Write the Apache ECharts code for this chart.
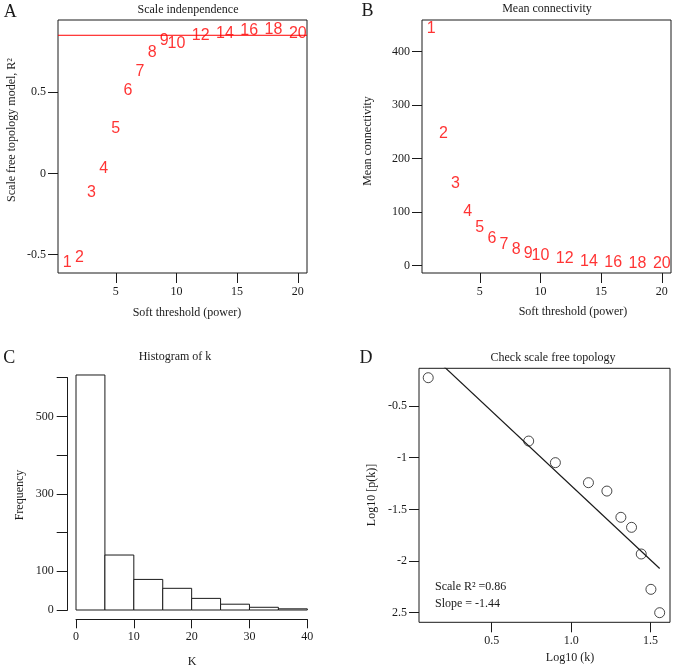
<!DOCTYPE html>
<html><head><meta charset="utf-8">
<script src="https://cdn.jsdelivr.net/npm/echarts@6/dist/echarts.min.js"></script>
<style>html,body{margin:0;padding:0;background:#fff}#c{width:677px;height:669px}</style>
</head><body><div id="c"></div>
<script>
// ---- Panel A / B : soft-threshold selection ----
const powers = [1,2,3,4,5,6,7,8,9,10,12,14,16,18,20];
const sftR2 = [-0.551,-0.52,-0.119,0.031,0.273,0.508,0.627,0.743,0.817,0.797,0.846,0.863,0.877,0.887,0.863];
const meanK = [442,247,153,101,70,50,38,30,23,19,12,7.5,4.5,3.2,3.2];
const r2Cutoff = 0.85;
const thresholdTicks = [5,10,15,20];
const r2Ticks = [-0.5,0,0.5];
const meanKTicks = [0,100,200,300,400];
// ---- Panel C : histogram of k ----
const kBinEdges = [0,5,10,15,20,25,30,35,40];
const kCounts = [607,142,79,56,30,15,7,3];
const freqTicks = [0,100,200,300,400,500,600];
const freqLabelTicks = [0,100,300,500];
const kTicks = [0,10,20,30,40];
// ---- Panel D : scale free topology check ----
const log10k = [0.101,0.733,0.901,1.109,1.225,1.313,1.380,1.441,1.502,1.557];
const log10pk = [-0.226,-0.839,-1.048,-1.242,-1.323,-1.577,-1.674,-1.932,-2.274,-2.5];
const fitIntercept = 0.17;
const fitSlope = -1.44;
const fitR2 = 0.86;
const log10kTicks = [0.5,1.0,1.5];
const log10kTickLabels = ['0.5','1.0','1.5'];
const log10pkTicks = [-2.5,-2,-1.5,-1,-0.5];
const log10pkTickLabels = ['2.5','-2','-1.5','-1','-0.5'];

// axis ranges (R-style 4% padding)
const powerRange = [0.24, 20.76];

const SERIF = 'Liberation Serif';
const SANS = 'Liberation Sans';
const INK = '#1a1a1a';
const FS = 12;
const tickStyle = {color: INK, width: 1};
const lblStyle = {fontFamily: SERIF, fontSize: 12, color: INK};

function boxX(grid, min, max, ticks, fmt) {
  return {gridIndex: grid, type: 'value', min: min, max: max,
    axisLine: {show: false, onZero: false}, splitLine: {show: false},
    axisTick: {show: true, length: 10, customValues: ticks, lineStyle: tickStyle},
    axisLabel: Object.assign({customValues: ticks, margin: 13, formatter: fmt}, lblStyle)};
}
function boxY(grid, min, max, ticks, fmt) {
  return {gridIndex: grid, type: 'value', min: min, max: max,
    axisLine: {show: false, onZero: false}, splitLine: {show: false},
    axisTick: {show: true, length: 10, customValues: ticks, lineStyle: tickStyle},
    axisLabel: Object.assign({customValues: ticks, margin: 12, formatter: fmt}, lblStyle)};
}
function txt(x, y, text, size, opts, align) {
  return Object.assign({type: 'text', x: x, y: y, silent: true,
    style: {text: text, fontFamily: SERIF, fontSize: size, fill: INK, align: align || 'center', verticalAlign: 'middle'}}, opts || {});
}

const chart = echarts.init(document.getElementById('c'), null, {renderer: 'canvas'});
const gridBox = {show: true, borderColor: INK, borderWidth: 1, backgroundColor: 'transparent', containLabel: false};

const option = {
  animation: false,
  backgroundColor: '#fff',
  grid: [
    Object.assign({left: 58, top: 20, width: 249, height: 253}, gridBox),
    Object.assign({left: 422, top: 20, width: 249, height: 253}, gridBox),
    {left: 76, top: 377.7, width: 231.3, height: 232.3, show: false},
    Object.assign({left: 419, top: 368.3, width: 251, height: 254}, gridBox)
  ],
  xAxis: [
    boxX(0, powerRange[0], powerRange[1], thresholdTicks, v => String(v)),
    boxX(1, powerRange[0], powerRange[1], thresholdTicks, v => String(v)),
    {gridIndex: 2, type: 'value', min: 0, max: 40, interval: 10, offset: 9.3,
      axisLine: {show: true, onZero: false, lineStyle: {color: INK, width: 1}}, splitLine: {show: false},
      axisTick: {show: true, length: 9, customValues: kTicks, lineStyle: tickStyle},
      axisLabel: Object.assign({customValues: kTicks, margin: 12}, lblStyle)},
    boxX(3, 0.043, 1.622, log10kTicks, v => log10kTickLabels[log10kTicks.indexOf(v)])
  ],
  yAxis: [
    boxY(0, -0.6125, 0.944, r2Ticks, v => String(v)),
    boxY(1, -14.2, 459, meanKTicks, v => String(v)),
    {gridIndex: 2, type: 'value', min: 0, max: 600, offset: 8.3,
      axisLine: {show: true, onZero: false, lineStyle: {color: INK, width: 1}}, splitLine: {show: false},
      axisTick: {show: true, length: 11, customValues: freqTicks, lineStyle: tickStyle},
      axisLabel: Object.assign({customValues: freqLabelTicks, margin: 14}, lblStyle)},
    boxY(3, -2.593, -0.135, log10pkTicks, v => log10pkTickLabels[log10pkTicks.indexOf(v)])
  ],
  series: [
    {type: 'line', xAxisIndex: 0, yAxisIndex: 0, showSymbol: false, silent: true,
      lineStyle: {color: '#ff0000', width: 1},
      data: powerRange.map(x => [x, r2Cutoff])},
    {type: 'scatter', xAxisIndex: 0, yAxisIndex: 0, symbol: 'circle', symbolSize: 1,
      itemStyle: {color: 'rgba(0,0,0,0)'},
      data: powers.map((p, i) => [p, sftR2[i], p]),
      label: {show: true, position: 'inside', formatter: p => String(p.value[2]),
        fontFamily: SANS, fontSize: 16, color: '#ff0000'}},
    {type: 'scatter', xAxisIndex: 1, yAxisIndex: 1, symbol: 'circle', symbolSize: 1,
      itemStyle: {color: 'rgba(0,0,0,0)'},
      data: powers.map((p, i) => [p, meanK[i], p]),
      label: {show: true, position: 'inside', formatter: p => String(p.value[2]),
        fontFamily: SANS, fontSize: 16, color: '#ff0000'}},
    {type: 'custom', xAxisIndex: 2, yAxisIndex: 2, clip: false,
      data: kCounts.map((c, i) => [kBinEdges[i], kBinEdges[i + 1], c]),
      encode: {x: [0, 1], y: 2},
      renderItem: (params, api) => {
        const p0 = api.coord([api.value(0), api.value(2)]);
        const p1 = api.coord([api.value(1), 0]);
        return {type: 'rect', shape: {x: p0[0], y: p0[1], width: p1[0] - p0[0], height: p1[1] - p0[1]},
          style: {fill: '#fff', stroke: INK, lineWidth: 1}};
      }},
    {type: 'line', xAxisIndex: 3, yAxisIndex: 3, showSymbol: false, clip: true,
      lineStyle: {color: INK, width: 1.2},
      data: [Math.min(...log10k), Math.max(...log10k)].map(x => [x, fitIntercept + fitSlope * x])},
    {type: 'scatter', xAxisIndex: 3, yAxisIndex: 3, symbol: 'circle', symbolSize: 10,
      itemStyle: {color: '#fff', borderColor: INK, borderWidth: 1},
      data: log10k.map((x, i) => [x, log10pk[i]])}
  ],
  graphic: [
    txt(10.3, 12.5, 'A', 18),
    txt(188, 10, 'Scale indenpendence', FS),
    txt(187, 313, 'Soft threshold (power)', FS),
    txt(12, 130, 'Scale free topology model, R²', FS, {rotation: Math.PI / 2}),
    txt(367.5, 11, 'B', 18),
    txt(547, 9, 'Mean connectivity', FS),
    txt(573, 312, 'Soft threshold (power)', FS),
    txt(368, 141, 'Mean connectivity', FS, {rotation: Math.PI / 2}),
    txt(9.2, 358.3, 'C', 18),
    txt(175, 357, 'Histogram of k', FS),
    txt(192, 662, 'K', FS),
    txt(20, 495, 'Frequency', FS, {rotation: Math.PI / 2}),
    txt(366, 358, 'D', 18),
    txt(553, 358, 'Check scale free topology', FS),
    txt(570, 658, 'Log10 (k)', FS),
    txt(372, 495, 'Log10 [p(k)]', FS, {rotation: Math.PI / 2}),
    txt(435, 587, 'Scale R² =' + fitR2.toFixed(2), FS, null, 'left'),
    txt(435, 604, 'Slope = ' + fitSlope.toFixed(2), FS, null, 'left')
  ]
};
chart.setOption(option);
</script>
</body></html>
